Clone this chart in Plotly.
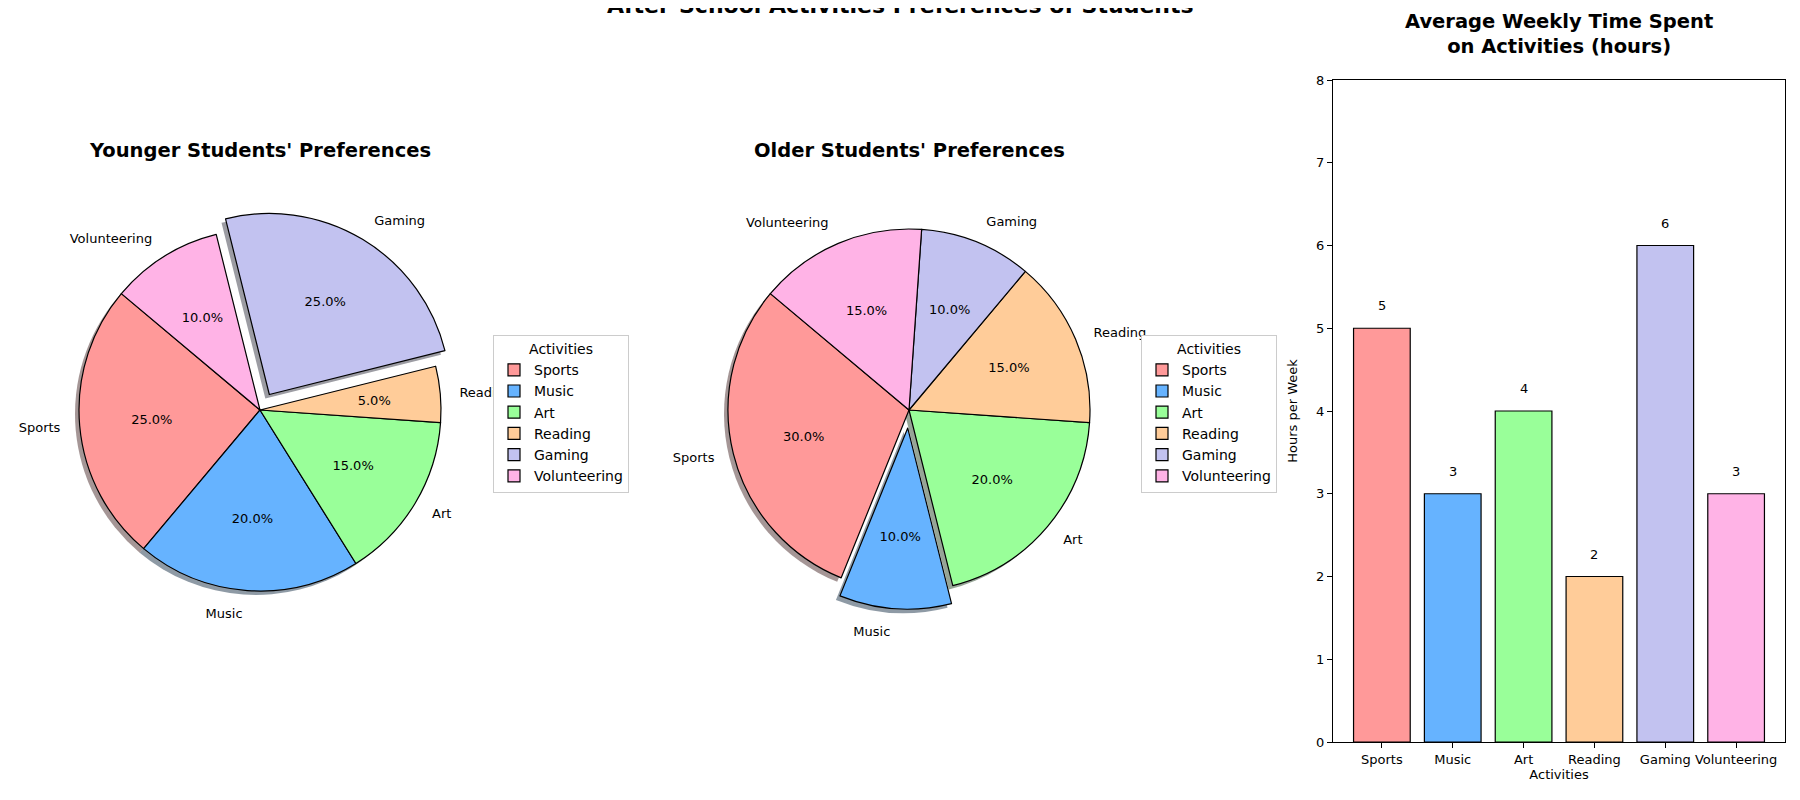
import plotly.graph_objects as go

# data
activities = ['Sports', 'Music', 'Art', 'Reading', 'Gaming', 'Volunteering']
younger_pct = [25, 20, 15, 5, 25, 10]
older_pct = [30, 10, 20, 15, 10, 15]
weekly_hours = [5, 3, 4, 2, 6, 3]
younger_pull = [0, 0, 0, 0, 0.1, 0]
older_pull = [0, 0.1, 0, 0, 0, 0]
colors = ['#ff9999', '#66b3ff', '#99ff99', '#ffcc99', '#c2c2f0', '#ffb3e6']

# the page body has an 8px margin, so the figure is drawn 8px in from the corner
OFF = 8
W, H = 1800 - 2 * OFF, 800 - 2 * OFF
FONT = 'DejaVu Sans'
RADIUS = 181        # pie radius in px
START_ANGLE = 140   # first slice starts here (deg, ccw from 3 o'clock)
LABEL_R = 1.085     # outside labels sit just beyond the rim
PCT_R = 0.6         # percentages sit at 0.6 of the radius
PCT_FIT = 24        # half-width (px) of the ring that carries the percentages


def fx(px):
    return (px - OFF) / W


def fy(py):
    return 1 - (py - OFF) / H


def shadow_color(hex_color):
    # matplotlib style pie shadow: 30% of face colour at half alpha
    h = hex_color.lstrip('#')
    r, g, b = (int(h[i:i + 2], 16) for i in (0, 2, 4))
    return f'rgba({int(r * 0.3)},{int(g * 0.3)},{int(b * 0.3)},0.5)'


def pie_domain(cx, cy, radius, pull, dx=0, dy=0):
    """ pixel centre/radius -> paper domain (margins are 0) """
    half = radius * (1 + max(pull))
    return dict(x=[fx(cx - half + dx), fx(cx + half + dx)],
                y=[fy(cy + half + dy), fy(cy - half + dy)])


def add_pie(fig, values, pull, cx, cy, legend_name, group):
    clear = ['rgba(0,0,0,0)'] * len(activities)
    # plotly's counterclockwise pies put the END of the first slice at the rotation angle,
    # so shift by the first slice to start it at START_ANGLE like matplotlib
    rot = -(START_ANGLE - 90) - 360 * values[0] / sum(values)
    common = dict(labels=activities, values=values, sort=False, legendgroup=group, legend=legend_name,
                  direction='counterclockwise', rotation=rot, hoverinfo='skip')

    # shadow
    fig.add_trace(go.Pie(**common, pull=pull, domain=pie_domain(cx, cy, RADIUS, pull, dx=-4, dy=4),
                         showlegend=False, textinfo='none',
                         marker=dict(colors=[shadow_color(c) for c in colors], line=dict(width=0))))
    # slices
    fig.add_trace(go.Pie(**common, pull=pull, domain=pie_domain(cx, cy, RADIUS, pull), textinfo='none',
                         marker=dict(colors=colors, line=dict(color='black', width=1.2))))

    # percentages: transparent ring centred on PCT_R of the radius, wide enough for the text
    r_txt = RADIUS * PCT_R + PCT_FIT
    hole = 1 - 2 * PCT_FIT / r_txt
    pull_txt = [p * RADIUS / r_txt for p in pull]
    fig.add_trace(go.Pie(**common, pull=pull_txt, domain=pie_domain(cx, cy, r_txt, pull_txt), hole=hole,
                         showlegend=False, texttemplate='%{percent:.1%}', textposition='inside',
                         insidetextorientation='horizontal',
                         textfont=dict(size=13, color='black', family=FONT),
                         marker=dict(colors=clear, line=dict(width=0))))

    # outside labels
    r_lab = RADIUS * LABEL_R
    pull_lab = [p * RADIUS / r_lab for p in pull]
    fig.add_trace(go.Pie(**common, pull=pull_lab, domain=pie_domain(cx, cy, r_lab, pull_lab), showlegend=False,
                         texttemplate='%{label}', textposition='outside',
                         textfont=dict(size=13, color='black', family=FONT),
                         marker=dict(colors=clear, line=dict(width=0))))


fig = go.Figure()
add_pie(fig, younger_pct, younger_pull, 260, 410, 'legend', 'younger')
add_pie(fig, older_pct, older_pull, 909, 410, 'legend2', 'older')

fig.add_trace(go.Bar(x=activities, y=weekly_hours, marker=dict(color=colors, line=dict(color='black', width=1.2)),
                     showlegend=False, hoverinfo='skip', xaxis='x', yaxis='y'))

# value labels above bars
for a, h in zip(activities, weekly_hours):
    fig.add_annotation(x=a, y=h, xref='x', yref='y', text=str(h), showarrow=False,
                       yanchor='bottom', yshift=13, font=dict(size=13, color='black', family=FONT))

legend_style = dict(title=dict(text='Activities', side='top center', font=dict(size=14, family=FONT)),
                    font=dict(size=14, color='black', family=FONT), bordercolor='#cccccc', borderwidth=1,
                    bgcolor='white', yanchor='top', xanchor='left')

axis_style = dict(showline=True, linecolor='black', linewidth=1, mirror=True, ticks='outside', ticklen=5,
                  tickcolor='black', showgrid=False, zeroline=False,
                  tickfont=dict(size=13, color='black', family=FONT))

fig.update_layout(
    width=W, height=H, margin=dict(l=0, r=0, t=0, b=0, autoexpand=False),
    paper_bgcolor='white', plot_bgcolor='white',
    font=dict(family=FONT, color='black'),
    uniformtext=dict(minsize=13, mode='show'),
    legend=dict(**legend_style, x=fx(493), y=fy(335)),
    legend2=dict(**legend_style, x=fx(1141), y=fy(335)),
    xaxis=dict(**axis_style, domain=[fx(1333), fx(1785)], range=[-0.69, 5.69], tickangle=0,
               title=dict(text='Activities', font=dict(size=13, family=FONT), standoff=4)),
    yaxis=dict(**axis_style, domain=[fy(742), fy(80)], range=[0, 8], dtick=1,
               title=dict(text='Hours per Week', font=dict(size=13, family=FONT))),
    bargap=0.2,
)

titles = [("<b>Younger Students' Preferences</b>", 260, 150),
          ("<b>Older Students' Preferences</b>", 909, 150),
          ('<b>Average Weekly Time Spent<br>on Activities (hours)</b>', 1559, 34)]
for txt, px_x, px_y in titles:
    fig.add_annotation(x=fx(px_x), y=fy(px_y), xref='paper', yref='paper', text=txt, showarrow=False,
                       xanchor='center', yanchor='middle', font=dict(size=19.5, color='black', family=FONT))

# main title sits half off the top edge, as in the reference
fig.add_annotation(x=fx(900), y=1, xref='paper', yref='paper', showarrow=False, xanchor='center', yanchor='middle',
                   yshift=3, text='<b>After-School Activities Preferences of Students</b>',
                   font=dict(size=22, color='black', family=FONT))

fig.write_html('out.html')
